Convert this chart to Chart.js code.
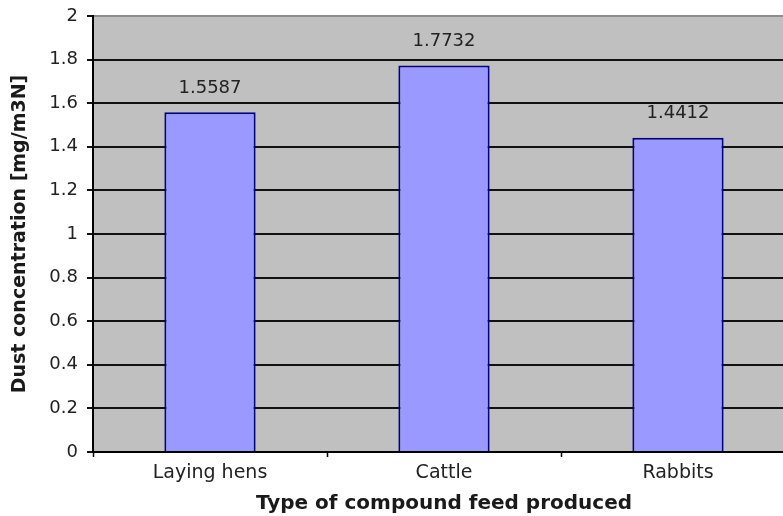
<!DOCTYPE html>
<html>
<head>
<meta charset="utf-8">
<script src="https://cdn.jsdelivr.net/npm/chart.js@4"></script>
<style>
  html, body { margin: 0; padding: 0; background: #fff; overflow: hidden; }
  #wrap { width: 800px; height: 516px; }
</style>
</head>
<body>
<div id="wrap"><canvas id="dustChart" width="800" height="516"></canvas></div>
<script>
const categories = ["Laying hens", "Cattle", "Rabbits"];
const dustValues = [1.5587, 1.7732, 1.4412];
const valueLabels = ["1.5587", "1.7732", "1.4412"];

const FONT = "'DejaVu Sans', Verdana, sans-serif";
const ctx = document.getElementById("dustChart").getContext("2d");

const plotBackground = {
    id: "plotBackground",
    beforeDraw(chart) {
        const a = chart.chartArea;
        const c = chart.ctx;
        c.save();
        c.fillStyle = "#c0c0c0";
        c.fillRect(a.left, a.top, a.right - a.left, a.bottom - a.top);
        c.restore();
    }
};

const barValueLabels = {
    id: "barValueLabels",
    afterDatasetsDraw(chart) {
        const c = chart.ctx;
        const bars = chart.getDatasetMeta(0).data;
        c.save();
        c.font = "18px " + FONT;
        c.fillStyle = "#222";
        c.textAlign = "center";
        c.textBaseline = "middle";
        bars.forEach((bar, i) => {
            c.fillText(valueLabels[i], bar.x, bar.y - 24);
        });
        c.restore();
    }
};

new Chart(ctx, {
    type: "bar",
    data: {
        labels: categories,
        datasets: [{
            data: dustValues,
            backgroundColor: "#9999ff",
            borderColor: "#000080",
            borderWidth: 2,
            borderSkipped: "bottom",
            categoryPercentage: 1,
            barPercentage: 0.39
        }]
    },
    options: {
        responsive: false,
        animation: false,
        layout: { padding: { top: 16, right: 5, left: 0, bottom: 0 } },
        plugins: {
            legend: { display: false },
            tooltip: { enabled: false }
        },
        scales: {
            x: {
                offset: true,
                afterFit: s => { s.height = 64; },
                grid: {
                    offset: true,
                    drawOnChartArea: false,
                    drawTicks: true,
                    tickLength: 5,
                    tickColor: "#000",
                    tickWidth: 1.5
                },
                border: { color: "#000", width: 2 },
                ticks: {
                    color: "#222",
                    padding: 5,
                    font: { family: FONT, size: 19 }
                },
                title: {
                    display: true,
                    text: "Type of compound feed produced",
                    color: "#1a1a1a",
                    padding: { top: 2, bottom: 0 },
                    font: { family: FONT, size: 20, weight: "bold" }
                }
            },
            y: {
                min: 0,
                max: 2,
                afterFit: s => {
                    s.width = 93;
                    s.paddingTop = 0;
                    s.paddingBottom = 0;
                },
                grid: {
                    color: c => (c.tick && c.tick.value === 2) ? "#8c8c8c" : "#111",
                    lineWidth: 2,
                    tickLength: 6,
                    tickColor: "#111"
                },
                border: { color: "#000", width: 2 },
                ticks: {
                    stepSize: 0.2,
                    color: "#222",
                    padding: 9,
                    font: { family: FONT, size: 18 },
                    callback: v => String(Math.round(v * 10) / 10)
                },
                title: {
                    display: true,
                    text: "Dust concentration [mg/m3N]",
                    color: "#1a1a1a",
                    padding: { top: 9, bottom: 0 },
                    font: { family: FONT, size: 19, weight: "bold" }
                }
            }
        }
    },
    plugins: [plotBackground, barValueLabels]
});
</script>
</body>
</html>
